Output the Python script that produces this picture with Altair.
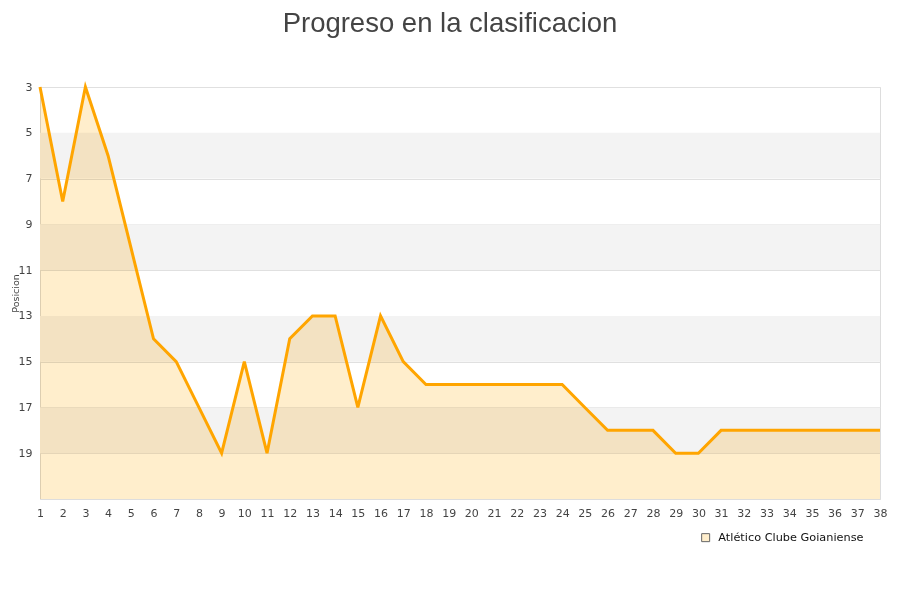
import altair as alt
import pandas as pd

jornadas = list(range(1, 39))
posicion = [3, 8, 3, 6, 10, 14, 15, 17, 19, 15, 19, 14, 13, 13, 17, 13, 15, 16,
            16, 16, 16, 16, 16, 16, 17, 18, 18, 18, 19, 19, 18, 18, 18, 18, 18, 18, 18, 18]
equipo = "Atlético Clube Goianiense"
band_start = [5, 9, 13, 17]
band_end = [7, 11, 15, 19]
y_ticks = [3, 5, 7, 9, 11, 13, 15, 17, 19]

df = pd.DataFrame({"jornada": jornadas, "posicion": posicion, "equipo": equipo, "fondo": 21})
bands = pd.DataFrame({"y1": band_start, "y2": band_end})

xscale = alt.Scale(domain=[1, 38], nice=False, zero=False)
yscale = alt.Scale(domain=[3, 21], reverse=True, nice=False, zero=False)

xaxis = alt.Axis(values=jornadas, title=None, grid=False, ticks=False,
                 labelFontSize=11, labelColor="#444", labelPadding=8,
                 domainColor="#ddd", labelFont="DejaVu Sans", labelFlush=False,
                 labelOverlap=False, labelBound=False)
yaxis = alt.Axis(values=y_ticks, title="Posicion", grid=True, gridColor="#e0e0e0",
                 ticks=False, domain=False, labelFontSize=11, labelColor="#444",
                 labelPadding=8, titleFontSize=9.5, titleFontWeight="normal",
                 titleColor="#444", titleFont="DejaVu Sans", labelFont="DejaVu Sans",
                 titlePadding=-2, labelOverlap=False)

band_layer = alt.Chart(bands).mark_rect(color="#f3f3f3").encode(
    x=alt.value(0), x2=alt.value(840),
    y=alt.Y("y1:Q", scale=yscale, axis=yaxis), y2="y2:Q",
)

area = alt.Chart(df).mark_area(fillOpacity=1, interpolate="linear", blend="multiply").encode(
    x=alt.X("jornada:Q", scale=xscale, axis=xaxis),
    y=alt.Y("posicion:Q", scale=yscale, axis=yaxis),
    y2="fondo:Q",
    fill=alt.Fill("equipo:N", scale=alt.Scale(range=["#FFEECC"]),
                  legend=alt.Legend(title=None, orient="none", legendX=660, legendY=445,
                                    symbolType="square", symbolSize=64,
                                    symbolStrokeColor="#666", symbolStrokeWidth=1,
                                    labelFontSize=11.3, labelColor="#111", labelOffset=7,
                                    labelFont="DejaVu Sans")),
)

line = alt.Chart(df).mark_line(color="#FFA500", strokeWidth=3).encode(
    x=alt.X("jornada:Q", scale=xscale, axis=xaxis),
    y=alt.Y("posicion:Q", scale=yscale, axis=yaxis),
)

chart = alt.layer(band_layer, area, line).properties(
    width=840, height=412,
    autosize=alt.AutoSizeParams(type="none"),
    padding={"left": 32, "top": 79, "right": 8, "bottom": 60},
    title=alt.Title("Progreso en la clasificacion", fontSize=27.5, font="Liberation Sans",
                    fontWeight="normal", color="#444", anchor="middle", frame="group",
                    offset=44, dx=-10),
).configure_view(stroke="#ddd").configure_axisX(labelOverlap=False)

chart.save("out.html", embed_options={"renderer": "svg", "actions": False})
